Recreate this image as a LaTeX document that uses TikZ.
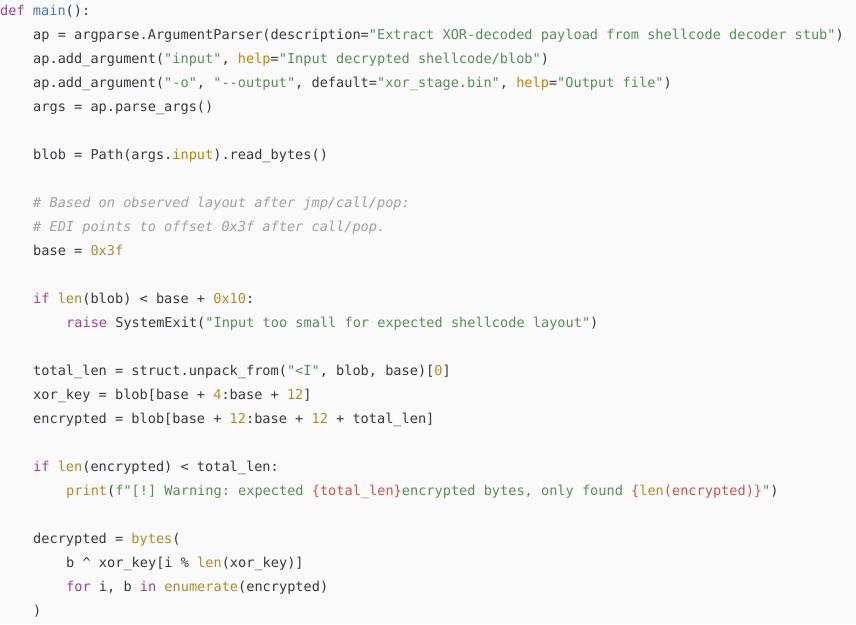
\documentclass[tikz,border=0pt]{standalone}
\usepackage{fontspec}
\setmonofont{DejaVu Sans Mono}
\definecolor{bgc}{HTML}{FAFAFA}
\definecolor{txc}{HTML}{383A42}
\definecolor{kwc}{HTML}{A0409A}
\definecolor{fnc}{HTML}{4A78B8}
\definecolor{stc}{HTML}{5A8E58}
\definecolor{nmc}{HTML}{B5892A}
\definecolor{cmc}{HTML}{A0A1A7}
\definecolor{prc}{HTML}{C18401}
\definecolor{ipc}{HTML}{C8554E}
\newcommand{\Kw}[1]{\textcolor{kwc}{#1}}
\newcommand{\Fn}[1]{\textcolor{fnc}{#1}}
\newcommand{\St}[1]{\textcolor{stc}{#1}}
\newcommand{\Nm}[1]{\textcolor{nmc}{#1}}
\newcommand{\Cm}[1]{\textcolor{cmc}{\itshape #1}}
\newcommand{\Pm}[1]{\textcolor{prc}{#1}}
\newcommand{\Ip}[1]{\textcolor{ipc}{#1}}
\begin{document}
\begin{tikzpicture}[x=1pt,y=1pt,
  codeline/.style={anchor=base west,inner sep=0pt,text=txc,font=\ttfamily\fontsize{13.6}{16}\selectfont}]
\fill[bgc] (0,0) rectangle (856,-624);
\useasboundingbox (0,0) rectangle (856,-624);
\def\ind{33}
\node[codeline] (l0) at (0,-15) {\Kw{def} \Fn{main}():};
\node[codeline] (l1) at (\ind,-39) {ap = argparse.ArgumentParser(description=\St{"Extract XOR-decoded payload from shellcode decoder stub"})};
\node[codeline] (l2) at (\ind,-63) {ap.add\_argument(\St{"input"}, \Pm{help}=\St{"Input decrypted shellcode/blob"})};
\node[codeline] (l3) at (\ind,-87) {ap.add\_argument(\St{"-o"}, \St{"--output"}, default=\St{"xor\_stage.bin"}, \Pm{help}=\St{"Output file"})};
\node[codeline] (l4) at (\ind,-111) {args = ap.parse\_args()};
\node[codeline] (l6) at (\ind,-159) {blob = Path(args.\Pm{input}).read\_bytes()};
\node[codeline] (l8) at (\ind,-207) {\Cm{\# Based on observed layout after jmp/call/pop:}};
\node[codeline] (l9) at (\ind,-231) {\Cm{\# EDI points to offset 0x3f after call/pop.}};
\node[codeline] (l10) at (\ind,-255) {base = \Nm{0x3f}};
\node[codeline] (l12) at (\ind,-303) {\Kw{if} \Nm{len}(blob) < base + \Nm{0x10}:};
\node[codeline] (l13) at (2*\ind,-327) {\Kw{raise} SystemExit(\St{"Input too small for expected shellcode layout"})};
\node[codeline] (l15) at (\ind,-375) {total\_len = struct.unpack\_from(\St{"<I"}, blob, base)[\Nm{0}]};
\node[codeline] (l16) at (\ind,-399) {xor\_key = blob[base + \Nm{4}:base + \Nm{12}]};
\node[codeline] (l17) at (\ind,-423) {encrypted = blob[base + \Nm{12}:base + \Nm{12} + total\_len]};
\node[codeline] (l19) at (\ind,-471) {\Kw{if} \Nm{len}(encrypted) < total\_len:};
\node[codeline] (l20) at (2*\ind,-495) {\Nm{print}(\St{f"[!] Warning: expected }\Ip{\{total\_len\}}\St{ encrypted bytes, only found }\Ip{\{}\Nm{len}\Ip{(encrypted)\}}\St{"})};
\node[codeline] (l22) at (\ind,-543) {decrypted = \Nm{bytes}(};
\node[codeline] (l23) at (2*\ind,-567) {b \textasciicircum{} xor\_key[i \% \Nm{len}(xor\_key)]};
\node[codeline] (l24) at (2*\ind,-591) {\Kw{for} i, b \Kw{in} \Nm{enumerate}(encrypted)};
\node[codeline] (l25) at (\ind,-615) {)};
\end{tikzpicture}
\end{document}
